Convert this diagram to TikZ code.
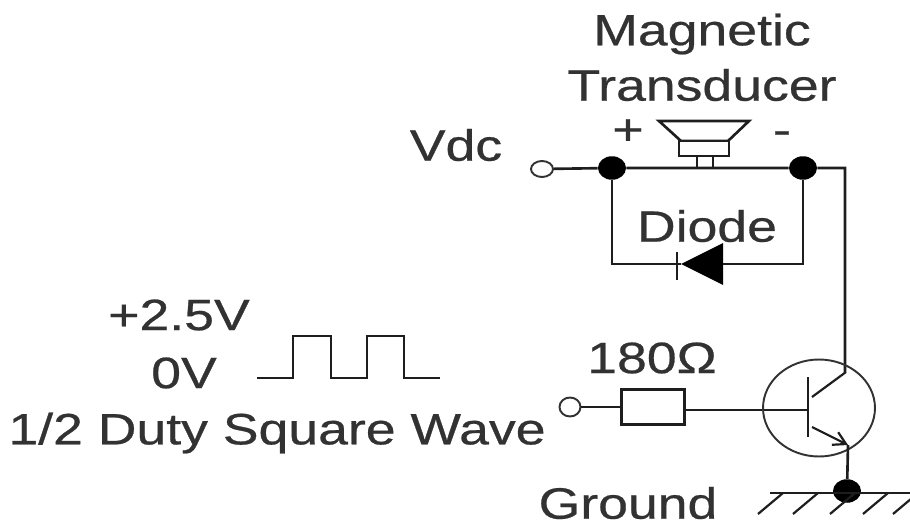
\documentclass[tikz,border=0pt]{standalone}
\usepackage{fontspec}
\usepackage{xcolor}
\setmainfont{Liberation Sans}[FakeBold=0.5]
\usetikzlibrary{shapes.geometric,arrows.meta}
\definecolor{wireink}{RGB}{30,30,30}
\definecolor{labelink}{RGB}{50,50,50}
\tikzset{
    wire/.style={draw=wireink, line width=1.5pt, line join=miter},
    thinwire/.style={draw=wireink, line width=1.25pt},
    junction/.style={ellipse, fill=black, draw=none, inner sep=0pt, minimum width=0.56cm, minimum height=0.47cm},
    terminal/.style={ellipse, draw=labelink, line width=1.1pt, fill=white, inner sep=0pt, minimum width=0.44cm, minimum height=0.32cm},
    lbl/.style={text=labelink, font=\fontsize{25}{30}\selectfont, inner sep=0pt, xscale=1.22},
}
\begin{document}
\begin{tikzpicture}[x=0.02cm, y=-0.02cm]
    \useasboundingbox (0,0) rectangle (910,527);

    % Labels
    \foreach \txt/\px/\py/\nm in {
        {Magnetic}/702/34/lblmag,
        {Transducer}/702/85/lbltrans,
        {Vdc}/456/145/lblvdc,
        {+}/628/132/lblplus,
        {-}/782/138/lblminus,
        {Diode}/707/226/lbldiode,
        {+2.5V}/179/315/lblhigh,
        {0V}/184/373/lbllow,
        {1/2 Duty Square Wave}/277/433/lblduty,
        {180Ω}/652/358/lblres,
        {Ground}/628/503/lblgnd%
    } {
        \node[lbl] (\nm) at (\px,\py) {\txt};
    }

    % Junctions and terminals
    \node[terminal] (vdcterm) at (542,169) {};
    \node[terminal, minimum width=0.42cm, minimum height=0.38cm] (interm) at (570,407) {};
    \node[junction] (dotleft) at (612,168) {};
    \node[junction] (dotright) at (803,168) {};
    \node[junction] (dotgnd) at (847,491) {};

    % Corners of the wiring
    \coordinate (cornertop) at (845,168);
    \coordinate (diodeleft) at (612,264);
    \coordinate (dioderight) at (803,264);
    \coordinate (diodetip) at (681,264);
    \coordinate (diodeback) at (723,264);

    % Supply rail and diode loop
    \draw[wire] (vdcterm) -- (dotleft) -- (dotright) -- (cornertop) -- (845,372);
    \draw[wire] (dotleft) -- (diodeleft) -- (diodetip);
    \draw[wire] (dotright) -- (dioderight) -- (diodeback);
    \fill[black] (diodetip) -- (723,243) -- (723,285) -- cycle;
    \draw[thinwire] (677,252) -- (677,280);

    % Speaker
    \draw[wire, fill=white] (659,121) -- (749,121) -- (728,141) -- (681,141) -- cycle;
    \draw[wire, fill=white] (679,141) rectangle (729,156);
    \draw[thinwire] (697,156) -- (697,168);
    \draw[thinwire] (713,156) -- (713,168);

    % Square wave
    \draw[thinwire] (257,378) -- (293,378) -- (293,336) -- (331,336) -- (331,378)
        -- (367,378) -- (367,336) -- (404,336) -- (404,378) -- (440,378);

    % Resistor
    \node[draw=wireink, line width=1.4pt, fill=white, rectangle, inner sep=0pt,
        minimum width=1.26cm, minimum height=0.7cm] (rbox) at (653,407) {};
    \coordinate (qbase) at (808,410);
    \draw[thinwire] (interm) -- (rbox);
    \draw[wire] (rbox.east |- qbase) -- (qbase);

    % Transistor
    \node[ellipse, draw=labelink, line width=1.1pt, inner sep=0pt,
        minimum width=2.24cm, minimum height=1.94cm] (qcirc) at (819,408) {};
    \coordinate (qcoll) at (846,372);
    \coordinate (qemit) at (848,445);
    \draw[wire] (808,377) -- (808,437);
    \draw[thinwire] (812,397) -- (qcoll);
    \draw[thinwire, -{Straight Barb[length=7pt,width=8pt]}] (812,427) -- (qemit);
    \draw[wire] (qemit) -- (dotgnd);

    % Ground
    \draw[wire] (770,493) -- (910,493);
    \foreach \hx in {758,793,830,863,893} {
        \draw[thinwire] (\hx,514) -- (\hx+25,493);
    }
\end{tikzpicture}
\end{document}
